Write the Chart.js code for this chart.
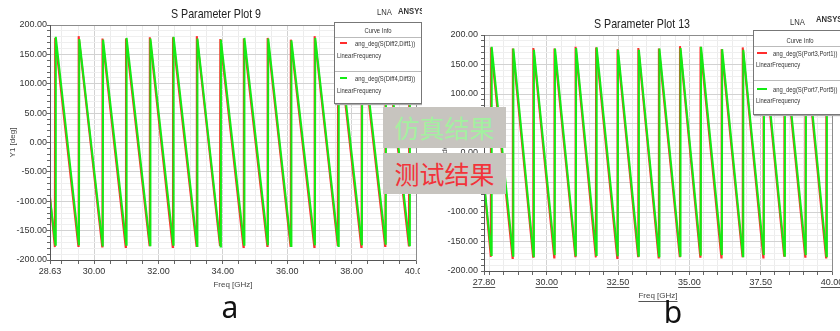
<!DOCTYPE html>
<html>
<head>
<meta charset="utf-8">
<script src="https://cdn.jsdelivr.net/npm/chart.js@4.4.1/dist/chart.umd.min.js"></script>
<style>
  body { margin: 0; background: #fff; }
  #page { position: relative; width: 840px; height: 331px; overflow: hidden; font-family: "Liberation Sans", Arial, sans-serif; }
  #leftClip { position: absolute; left: 0; top: 0; width: 422px; height: 331px; overflow: hidden; }
  canvas { position: absolute; top: 0; }
  .ptitle { position: absolute; font-size: 13px; color: #222; white-space: nowrap; transform: translate(-50%, -50%) scaleX(0.82); }
  .tag { position: absolute; font-size: 9px; color: #333; white-space: nowrap; transform: translateY(-50%) scaleX(0.85); transform-origin: left center; }
  .tag.b { font-weight: bold; }
  .legend { position: absolute; background: #fff; border: 1px solid #777; box-shadow: 1px 1px 1px #aaa; font-size: 7px; color: #333; overflow: hidden; }
  .legend div { position: absolute; white-space: nowrap; transform: translateY(-50%) scaleX(0.84); transform-origin: left center; }
  .legend .head { left: 0; right: 0; text-align: center; transform-origin: center center; }
  .legend .sep { height: 0; border-top: 1px solid #bbb; left: 0; right: 0; transform: none; }
  .legend .sw { height: 2px; transform: none; }
  .note { position: absolute; left: 383px; width: 123px; height: 41px; background: #c7c4bf; font-family: "Noto Sans CJK SC", sans-serif; font-size: 25px; line-height: 41px; text-align: center; }
  .sub { position: absolute; font-family: "Noto Sans", sans-serif; font-size: 30px; color: #111; transform: translate(-50%, -50%); }
</style>
</head>
<body>
<div id="page">
  <div id="leftClip">
    <canvas id="plotA" width="420" height="331" style="left:0"></canvas>
    <div class="ptitle" style="left:216px; top:12.5px">S Parameter Plot 9</div>
    <div class="tag" style="left:377px; top:12px">LNA</div>
    <div class="tag b" style="left:398px; top:11px">ANSYS</div>
    <div class="legend" id="legA" style="left:334px; top:22px; width:86px; height:80px"></div>
  </div>
  <canvas id="plotB" width="420" height="331" style="left:420px"></canvas>
  <div class="ptitle" style="left:642px; top:23px">S Parameter Plot 13</div>
  <div class="tag" style="left:790px; top:22px">LNA</div>
  <div class="tag b" style="left:816px; top:19px">ANSYS</div>
  <div class="legend" id="legB" style="left:753px; top:30px; width:92px; height:83px"></div>
  <div class="note" style="top:107px; color:#a3f0a0">仿真结果</div>
  <div class="note" style="top:153px; color:#f2333a">测试结果</div>
  <div class="sub" style="left:230px; top:306px">a</div>
  <div class="sub" style="left:673px; top:311px">b</div>
</div>
<script>
// plot a: S Parameter Plot 9
const simLabelA = "ang_deg(S(Diff4,Diff3))";
const measLabelA = "ang_deg(S(Diff2,Diff1))";
const simFreqA = [28.63, 28.80, 28.81, 29.53, 29.54, 30.27, 30.28, 31.00, 31.01, 31.74, 31.75, 32.46, 32.47, 33.20, 33.21, 33.93, 33.94,
  34.66, 34.67, 35.40, 35.41, 36.12, 36.13, 36.86, 36.87, 37.59, 37.60, 38.32, 38.33, 39.06, 39.07, 39.80, 39.81, 40.00];
const simPhaseA = [-95, -174, 180, -175, 176, -177, 175, -174, 178, -175, 177, -174, 180, -176, 177, -177, 175,
  -174, 178, -175, 177, -176, 174, -175, 178, -176, 178, -175, 176, -174, 179, -175, 177, 85];
const measFreqA = [28.63, 28.78, 28.79, 29.51, 29.52, 30.25, 30.26, 30.98, 30.99, 31.72, 31.73, 32.44, 32.45, 33.18, 33.19, 33.91, 33.92,
  34.64, 34.65, 35.38, 35.39, 36.10, 36.11, 36.84, 36.85, 37.57, 37.58, 38.30, 38.31, 39.04, 39.05, 39.78, 39.79, 40.00];
const measPhaseA = [-92, -178, 178, -176, 181, -177, 177, -178, 177, -175, 179, -178, 179, -176, 181, -176, 176,
  -178, 177, -176, 178, -176, 175, -178, 181, -176, 178, -178, 176, -176, 179, -177, 177, 76];
const xTicksA = [28.63, 30, 32, 34, 36, 38, 40];

// plot b: S Parameter Plot 13
const simLabelB = "ang_deg(S(Port7,Port5))";
const measLabelB = "ang_deg(S(Port3,Port1))";
const simFreqB = [27.80, 28.06, 28.07, 28.82, 28.83, 29.54, 29.55, 30.28, 30.29, 31.02, 31.03, 31.74, 31.75, 32.49, 32.50, 33.22, 33.23, 33.94,
  33.95, 34.68, 34.69, 35.40, 35.41, 36.14, 36.15, 36.88, 36.89, 37.61, 37.62, 38.34, 38.35, 39.08, 39.09, 39.81, 39.82, 40.00];
const simPhaseB = [-48, -173, 180, -174, 177, -175, 175, -173, 177, -175, 178, -173, 179, -175, 175, -174, 175, -175,
  177, -174, 178, -174, 180, -173, 176, -175, 175, -173, 178, -174, 176, -173, 179, -175, 177, 89];
const measFreqB = [27.80, 28.04, 28.05, 28.80, 28.81, 29.52, 29.53, 30.26, 30.27, 31.00, 31.01, 31.72, 31.73, 32.47, 32.48, 33.20, 33.21, 33.92,
  33.93, 34.66, 34.67, 35.38, 35.39, 36.12, 36.13, 36.86, 36.87, 37.59, 37.60, 38.32, 38.33, 39.06, 39.07, 39.79, 39.80, 40.00];
const measPhaseB = [-52, -176, 179, -178, 177, -176, 178, -177, 177, -175, 180, -177, 179, -178, 176, -175, 178, -177,
  177, -175, 181, -176, 180, -177, 176, -175, 179, -177, 178, -174, 177, -176, 179, -177, 178, 80];
const xTicksB = [27.8, 30, 32.5, 35, 37.5, 40];

const yTicks = [-200, -150, -100, -50, 0, 50, 100, 150, 200];

const GREEN = "rgb(20,235,20)";
const RED = "rgb(255,45,45)";

Chart.defaults.font.family = "'Liberation Sans', Arial, sans-serif";
Chart.defaults.color = "#333";

const pts = (xs, ys) => xs.map((x, i) => ({ x: x, y: ys[i] }));
const isIn = (arr, v) => arr.some(t => Math.abs(t - v) < 1e-6);

// box round the plot area, plus underlined x labels for plot b
const framePlugin = {
  id: "frame",
  afterDraw(chart) {
    const { ctx, chartArea: a } = chart;
    ctx.save();
    ctx.strokeStyle = "#8c8c8c";
    ctx.lineWidth = 1;
    ctx.strokeRect(a.left + 0.5, a.top + 0.5, a.right - a.left, a.bottom - a.top);
    ctx.strokeStyle = "#555";
    ctx.beginPath();
    ctx.moveTo(a.left + 0.5, a.top); ctx.lineTo(a.left + 0.5, a.bottom + 0.5); ctx.lineTo(a.right, a.bottom + 0.5);
    ctx.stroke();
    if (chart.options.underlineX) {
      const sx = chart.scales.x;
      ctx.font = "9px 'Liberation Sans', Arial, sans-serif";
      ctx.strokeStyle = "#555";
      ctx.beginPath();
      sx.ticks.forEach(t => {
        if (!t.label) return;
        const px = sx.getPixelForValue(t.value);
        const w = ctx.measureText(t.label).width;
        const y = Math.round(a.bottom + 4 + 2 + 9.5) + 0.5;
        ctx.moveTo(px - w / 2, y); ctx.lineTo(px + w / 2, y);
      });
      ctx.font = "8px 'Liberation Sans', Arial, sans-serif";
      const tw = ctx.measureText("Freq [GHz]").width;
      const cx = (a.left + a.right) / 2;
      const ty = Math.round(chart.options.freqY + 5) + 0.5;
      ctx.moveTo(cx - tw / 2, ty); ctx.lineTo(cx + tw / 2, ty);
      ctx.stroke();
    }
    ctx.restore();
  }
};

function makePlot(id, p) {
  const xMin = p.xTicks[0], xMax = p.xTicks[p.xTicks.length - 1];
  return new Chart(document.getElementById(id), {
    type: "line",
    data: {
      datasets: [
        { label: p.simLabel, data: pts(p.simFreq, p.simPhase), borderColor: GREEN, borderWidth: 2, pointRadius: 0, tension: 0 },
        { label: p.measLabel, data: pts(p.measFreq, p.measPhase), borderColor: RED, borderWidth: 2, pointRadius: 0, tension: 0 }
      ]
    },
    options: {
      responsive: false,
      animation: false,
      events: [],
      underlineX: p.underline,
      freqY: p.freqY,
      layout: { padding: { top: p.top, right: p.right, left: 0, bottom: 0 } },
      plugins: { legend: { display: false }, tooltip: { enabled: false } },
      scales: {
        x: {
          type: "linear", min: xMin, max: xMax,
          afterBuildTicks(s) {
            const vals = p.xTicks.slice();
            for (let v = Math.ceil(xMin * 2) / 2; v < xMax; v += 0.5) {
              if (!vals.some(t => Math.abs(t - v) < 0.15)) vals.push(v);
            }
            vals.sort((a, b) => a - b);
            s.ticks = vals.map(v => ({ value: v }));
          },
          afterFit(s) { s.height = 331 - p.bottom; s.paddingLeft = 0; s.paddingRight = 0; },
          ticks: { autoSkip: false, maxRotation: 0, padding: 2, font: { size: 9 }, color: "#333",
                   callback: v => isIn(p.xTicks, v) ? v.toFixed(2) : "" },
          grid: { color: c => isIn(p.xTicks, c.tick.value) ? "#d2d2d2" : "#ececec", tickLength: 4, tickColor: "#666" },
          border: { color: "#555" },
          title: { display: true, text: "Freq [GHz]", color: "#444",
                   font: { size: 8 },
                   padding: { top: 0, bottom: 331 - p.freqY - 4.8 } }
        },
        y: {
          type: "linear", min: -200, max: 200,
          afterBuildTicks(s) {
            const vals = [];
            for (let v = -200; v <= 200; v += 10) vals.push(v);
            s.ticks = vals.map(v => ({ value: v }));
          },
          afterFit(s) { s.width = p.yWidth; s.paddingTop = 0; s.paddingBottom = 0; },
          ticks: { autoSkip: false, padding: p.yPad, font: { size: 9 }, color: "#333",
                   callback: v => isIn(yTicks, v) ? v.toFixed(2) : "" },
          grid: { color: c => isIn(yTicks, c.tick.value) ? "#d2d2d2" : "#efefef", tickLength: 3, tickColor: "#666" },
          border: { color: "#555" },
          title: { display: true, text: "Y1 [deg]", color: "#444",
                   font: { size: 8 },
                   padding: { top: p.yTitleX - 4.8, bottom: 0 } }
        }
      }
    },
    plugins: [framePlugin]
  });
}

function makeLegend(id, rows, entries) {
  const box = document.getElementById(id);
  let html = `<div class="head" style="top:${rows.head}px">Curve Info</div>`;
  rows.seps.forEach(y => { html += `<div class="sep" style="top:${y}px"></div>`; });
  entries.forEach((e, i) => {
    const y = rows.items[i];
    html += `<div class="sw" style="left:${rows.swX}px;width:${rows.swW}px;top:${y - 1}px;background:${e.color}"></div>`;
    html += `<div style="left:${rows.textX}px;top:${y}px">${e.label}</div>`;
    html += `<div style="left:2px;top:${y + rows.sub}px">LinearFrequency</div>`;
  });
  box.innerHTML = html;
}

makePlot("plotA", {
  simLabel: simLabelA, measLabel: measLabelA,
  simFreq: simFreqA, simPhase: simPhaseA, measFreq: measFreqA, measPhase: measPhaseA,
  xTicks: xTicksA, top: 25, right: 4, bottom: 260, yWidth: 50, yPad: 0, yTitleX: 13, freqY: 285, underline: false
});
makePlot("plotB", {
  simLabel: simLabelB, measLabel: measLabelB,
  simFreq: simFreqB, simPhase: simPhaseB, measFreq: measFreqB, measPhase: measPhaseB,
  xTicks: xTicksB, top: 35, right: 8, bottom: 271, yWidth: 64, yPad: 3, yTitleX: 25, freqY: 296, underline: true
});

makeLegend("legA", { head: 7, seps: [14, 48], items: [20, 55], sub: 12, swX: 5, swW: 7, textX: 20 },
  [{ label: measLabelA, color: RED }, { label: simLabelA, color: GREEN }]);
makeLegend("legB", { head: 9, seps: [15, 49], items: [22, 58], sub: 11, swX: 3, swW: 10, textX: 19 },
  [{ label: measLabelB, color: RED }, { label: simLabelB, color: GREEN }]);
</script>
</body>
</html>
